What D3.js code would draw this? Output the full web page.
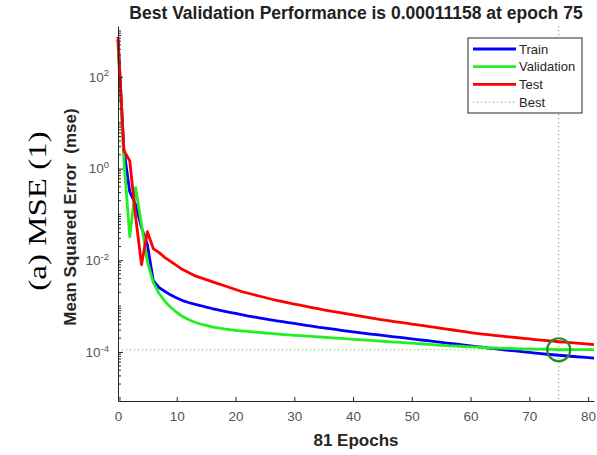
<!DOCTYPE html>
<html>
<head>
<meta charset="utf-8">
<script src="https://cdn.jsdelivr.net/npm/d3@7"></script>
<style>
  body { margin: 0; background: #fff; }
  #perfChart svg { display: block; }
</style>
</head>
<body>
<div id="perfChart"></div>
<script>
// epochs 0..81
const epochs = [0, 1, 2, 3, 4, 5, 6, 7, 8, 9, 10, 11, 12, 13, 14, 15, 16, 17, 18, 19, 20,
  21, 22, 23, 24, 25, 26, 27, 28, 29, 30, 31, 32, 33, 34, 35, 36, 37, 38, 39, 40,
  41, 42, 43, 44, 45, 46, 47, 48, 49, 50, 51, 52, 53, 54, 55, 56, 57, 58, 59, 60,
  61, 62, 63, 64, 65, 66, 67, 68, 69, 70, 71, 72, 73, 74, 75, 76, 77, 78, 79, 80, 81];

const trainPerf = [638, 2.57, 0.313, 0.163, 0.0514, 0.0219, 0.00361, 0.00254, 0.00208, 0.00174,
  0.00150, 0.00132, 0.00120, 0.00110, 0.00103, 0.000955, 0.000886, 0.000830, 0.000778, 0.000733,
  0.000690, 0.000649, 0.000614, 0.000585, 0.000556, 0.000529, 0.000503, 0.000478, 0.000457, 0.000437,
  0.000418, 0.000399, 0.000381, 0.000365, 0.000348, 0.000335, 0.000322, 0.000309, 0.000297, 0.000285,
  0.000274, 0.000264, 0.000255, 0.000246, 0.000238, 0.000230, 0.000222, 0.000214, 0.000207, 0.000200,
  0.000193, 0.000186, 0.000180, 0.000174, 0.000168, 0.000162, 0.000156, 0.000151, 0.000146, 0.000141,
  0.000136, 0.000131, 0.000127, 0.000122, 0.000118, 0.000114, 0.000110, 0.000107, 0.000104, 0.000100,
  0.0000975, 0.0000946, 0.0000918, 0.0000891, 0.0000869, 0.0000848, 0.0000826, 0.0000806, 0.0000786, 0.0000767,
  0.0000748, 0.0000730];

const valPerf = [497, 1.55, 0.0327, 0.382, 0.0598, 0.00935, 0.00326, 0.00188, 0.00126, 0.000931,
  0.000724, 0.000593, 0.000510, 0.000450, 0.000407, 0.000378, 0.000354, 0.000335, 0.000320, 0.000308,
  0.000297, 0.000288, 0.000280, 0.000273, 0.000266, 0.000259, 0.000253, 0.000247, 0.000240, 0.000236,
  0.000231, 0.000226, 0.000222, 0.000218, 0.000213, 0.000209, 0.000205, 0.000201, 0.000197, 0.000193,
  0.000189, 0.000185, 0.000182, 0.000178, 0.000174, 0.000171, 0.000168, 0.000164, 0.000161, 0.000158,
  0.000155, 0.000152, 0.000149, 0.000146, 0.000143, 0.000140, 0.000137, 0.000135, 0.000133, 0.000131,
  0.000129, 0.000127, 0.000125, 0.000123, 0.000122, 0.000121, 0.000120, 0.000119, 0.000117, 0.000117,
  0.000116, 0.0001155, 0.000115, 0.0001145, 0.0001142, 0.00011158, 0.0001117, 0.0001119, 0.0001121, 0.0001123,
  0.0001125, 0.0001127];

const testPerf = [741, 2.44, 1.48, 0.089, 0.0080, 0.042, 0.018, 0.0147, 0.0114, 0.00935,
  0.00765, 0.00627, 0.00539, 0.00463, 0.00419, 0.00379, 0.00343, 0.00310, 0.00281, 0.00254,
  0.00230, 0.00208, 0.00193, 0.00179, 0.00166, 0.00154, 0.00143, 0.00133, 0.00125, 0.00118,
  0.00111, 0.00105, 0.000989, 0.000931, 0.000877, 0.000826, 0.000786, 0.000747, 0.000710, 0.000676,
  0.000643, 0.000611, 0.000580, 0.000551, 0.000524, 0.000502, 0.000481, 0.000461, 0.000442, 0.000424,
  0.000406, 0.000389, 0.000373, 0.000357, 0.000342, 0.000328, 0.000314, 0.000301, 0.000288, 0.000276,
  0.000265, 0.000255, 0.000246, 0.000238, 0.000230, 0.000223, 0.000216, 0.000210, 0.000204, 0.000198,
  0.000192, 0.000186, 0.000181, 0.000176, 0.000172, 0.000167, 0.000163, 0.000160, 0.000156, 0.000152,
  0.000148, 0.000144];

const bestEpoch = 75;
const bestPerf = 0.00011158;

const xTicks = [0, 10, 20, 30, 40, 50, 60, 70, 80];
const yTicks = [1e2, 1e0, 1e-2, 1e-4];
const yTickExps = ["2", "0", "-2", "-4"];

const legendLabels = ["Train", "Validation", "Test", "Best"];
const legendColors = ["#0000ff", "#22ee22", "#ff0000", "#66cc66"];

const titleText = "Best Validation Performance is 0.00011158 at epoch 75";
const xLabel = "81 Epochs";
const yLabel = "Mean Squared Error  (mse)";
const sideLabel = "(a) MSE (1)";

const size = {
  width: 597,
  height: 455,
  margin: { top: 26, right: 3, bottom: 54, left: 118 }
};

const innerW = size.width - size.margin.left - size.margin.right;
const innerH = size.height - size.margin.top - size.margin.bottom;

const xScale = d3.scaleLinear()
  .domain([0, 81])
  .range([0, innerW]);

const yScale = d3.scaleLog()
  .domain([Math.pow(10, -5.07), Math.pow(10, 3.11)])
  .range([innerH, 0]);

const svg = d3.select("#perfChart")
  .append("svg")
  .attr("width", size.width)
  .attr("height", size.height)
  .style("font-family", "Arial, 'Liberation Sans', Helvetica, sans-serif");

const g = svg.append("g")
  .attr("transform", `translate(${size.margin.left}, ${size.margin.top})`);

// Best markers (dotted)
g.append("line")
  .attr("x1", xScale(bestEpoch)).attr("x2", xScale(bestEpoch))
  .attr("y1", 0).attr("y2", innerH)
  .attr("stroke", "#66cc66").attr("stroke-width", 1.2)
  .attr("stroke-dasharray", "1.2,2.8");

g.append("line")
  .attr("x1", 0).attr("x2", innerW)
  .attr("y1", yScale(bestPerf)).attr("y2", yScale(bestPerf))
  .attr("stroke", "#66cc66").attr("stroke-width", 1.2)
  .attr("stroke-dasharray", "1.2,2.8");

// curves
const valueline = d3.line()
  .x((d) => xScale(d.x))
  .y((d) => yScale(d.y));

const series = [
  { name: "Train", values: trainPerf, color: legendColors[0] },
  { name: "Validation", values: valPerf, color: legendColors[1] },
  { name: "Test", values: testPerf, color: legendColors[2] }
];

series.forEach((s) => {
  g.append("path")
    .attr("fill", "none")
    .attr("stroke", s.color)
    .attr("stroke-width", 2.8)
    .attr("stroke-linejoin", "round")
    .attr("d", valueline(epochs.map((e, i) => ({ x: e, y: s.values[i] }))));
});

// best circle
g.append("circle")
  .attr("cx", xScale(bestEpoch))
  .attr("cy", yScale(bestPerf))
  .attr("r", 11.5)
  .attr("fill", "none")
  .attr("stroke", "#2a8a2a")
  .attr("stroke-width", 2.2);

// X axis
const xAxis = g.append("g")
  .attr("transform", `translate(0, ${innerH})`)
  .call(d3.axisBottom(xScale).tickValues(xTicks).tickSize(-4).tickPadding(10).tickSizeOuter(0));

// Y axis, major + minor ticks
const yAxis = g.append("g")
  .call(d3.axisLeft(yScale).tickValues(yTicks).tickSize(-5).tickPadding(9).tickSizeOuter(0).tickFormat(() => ""));

const minorTicks = yScale.ticks().filter((t) => yTicks.indexOf(t) < 0);
yAxis.selectAll(".minor")
  .data(minorTicks)
  .enter()
  .append("line")
  .attr("class", "minor")
  .attr("x1", 0).attr("x2", 3)
  .attr("y1", (d) => yScale(d)).attr("y2", (d) => yScale(d))
  .attr("stroke", "#262626");

yAxis.selectAll(".tick text")
  .each(function (d, i) {
    const t = d3.select(this);
    t.text(null);
    t.append("tspan").text("10");
    t.append("tspan").attr("dy", "-0.55em").attr("font-size", "9.5px").text(yTickExps[i]);
  });

[xAxis, yAxis].forEach((ax) => {
  ax.select(".domain").attr("stroke", "#262626").attr("stroke-width", 1);
  ax.selectAll(".tick line").attr("stroke", "#262626");
  ax.selectAll(".tick text").attr("fill", "#555").attr("font-size", "13.5px")
    .style("font-family", "Arial, 'Liberation Sans', sans-serif");
});

// Legend
const legend = svg.append("g").attr("transform", "translate(468, 38)");
legend.append("rect")
  .attr("width", 114).attr("height", 75)
  .attr("fill", "#fff").attr("stroke", "#262626").attr("stroke-width", 1);

legendLabels.forEach((lab, i) => {
  const yy = 11 + i * 17.7;
  legend.append("line")
    .attr("x1", 5).attr("x2", 48).attr("y1", yy).attr("y2", yy)
    .attr("stroke", legendColors[i])
    .attr("stroke-width", lab === "Best" ? 1.2 : 2.8)
    .attr("stroke-dasharray", lab === "Best" ? "1.2,2.8" : null);
  legend.append("text")
    .attr("x", 51).attr("y", yy + 4.5)
    .attr("font-size", "13px").attr("fill", "#262626")
    .text(lab);
});

// Titles
svg.append("text")
  .attr("x", 356).attr("y", 19)
  .attr("text-anchor", "middle")
  .attr("font-weight", "bold").attr("font-size", "17.5px").attr("fill", "#222")
  .text(titleText);

svg.append("text")
  .attr("x", 356).attr("y", 446)
  .attr("text-anchor", "middle")
  .attr("font-weight", "bold").attr("font-size", "17px").attr("fill", "#262626")
  .text(xLabel);

svg.append("text")
  .attr("transform", "translate(76, 217) rotate(-90)")
  .attr("text-anchor", "middle")
  .attr("font-weight", "bold").attr("font-size", "17px").attr("fill", "#262626")
  .style("white-space", "pre")
  .text(yLabel);

// side caption, stretched along its length like the source image
svg.append("text")
  .attr("transform", "translate(46, 211) scale(1, 1.27) rotate(-90)")
  .attr("text-anchor", "middle")
  .attr("font-size", "26px").attr("fill", "#000")
  .style("font-family", "'Liberation Serif', 'Times New Roman', serif")
  .text(sideLabel);
</script>
</body>
</html>
